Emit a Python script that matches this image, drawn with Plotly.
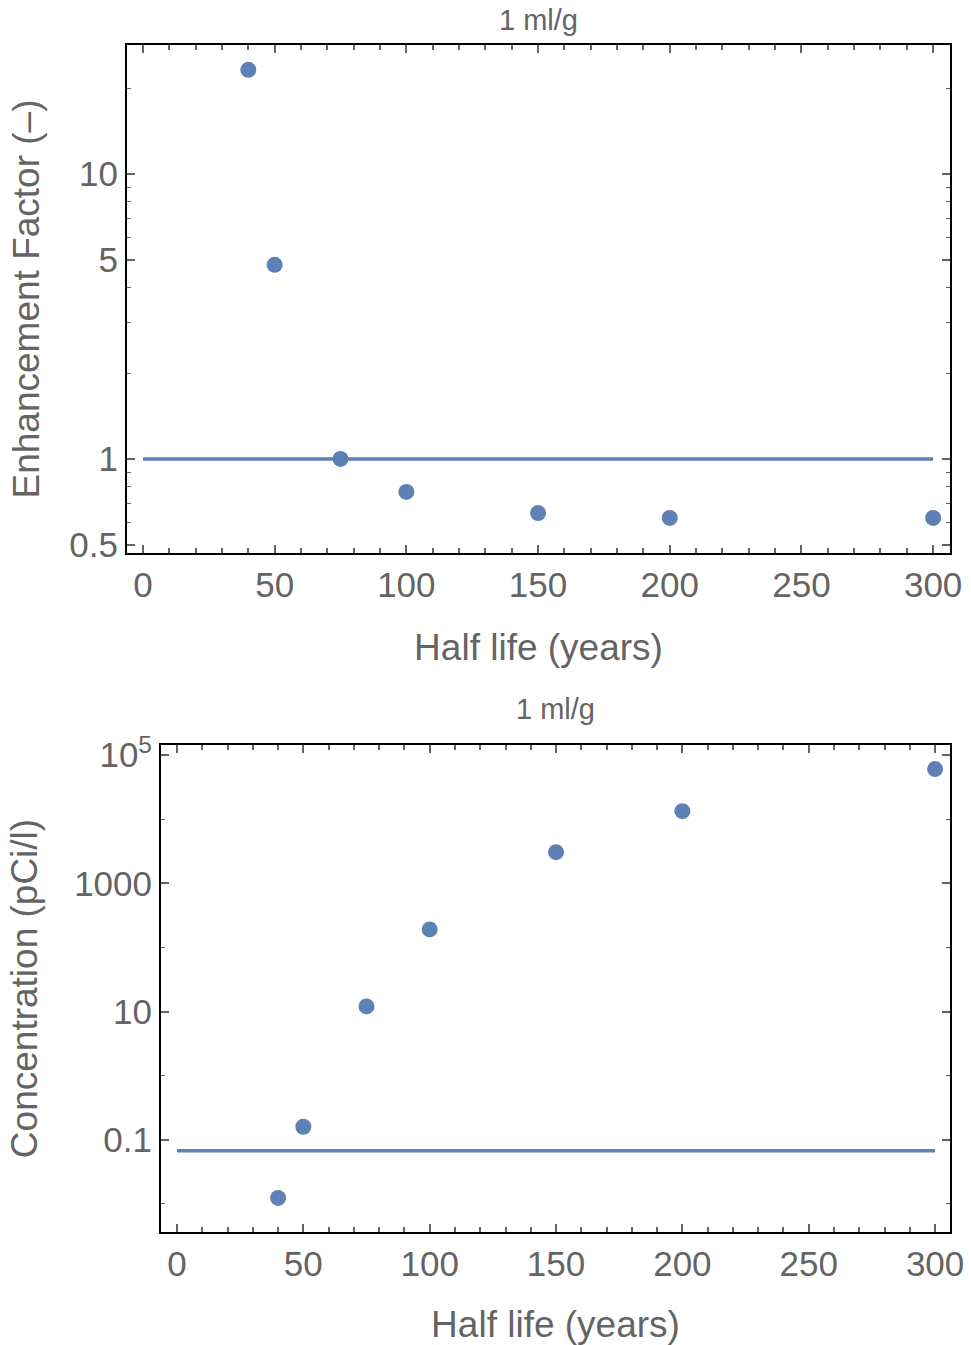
import plotly.graph_objects as go

# ---- data ----
half_life = [40, 50, 75, 100, 150, 200, 300]
enhancement = [23.2, 4.8, 1.0, 0.766, 0.646, 0.621, 0.621]
concentration = [0.0124, 0.16, 12.0, 191, 3050, 13300, 60400]

ref_x = [0, 300]
enh_ref = [1.0, 1.0]
conc_ref = [0.0673, 0.0673]

x_ticks = [0, 50, 100, 150, 200, 250, 300]
enh_ticks = [0.5, 1, 5, 10]
enh_ticktext = ["0.5", "1", "5", "10"]
enh_minor = [0.6, 0.7, 0.8, 0.9, 2, 3, 4, 6, 7, 8, 9, 20]
conc_ticks = [0.1, 10, 1000, 1e5]
conc_ticktext = ["0.1", "10", "1000", "10<sup>5</sup>"]
conc_minor = [0.01, 1, 100, 1e4]

title_text = "1 ml/g"
x_title = "Half life (years)"
y1_title = "Enhancement Factor (\u2013)"
y2_title = "Concentration (pCi/l)"

# ---- style ----
W, H = 971, 1345
BLUE = "#5E81B5"
GRAY = "#646464"
FONT = "Liberation Sans, Arial, sans-serif"

fig = go.Figure()
fig.add_trace(go.Scatter(x=ref_x, y=enh_ref, mode="lines", line=dict(color=BLUE, width=3.5),
                         xaxis="x", yaxis="y", showlegend=False))
fig.add_trace(go.Scatter(x=half_life, y=enhancement, mode="markers",
                         marker=dict(color=BLUE, size=16), xaxis="x", yaxis="y", showlegend=False))
fig.add_trace(go.Scatter(x=ref_x, y=conc_ref, mode="lines", line=dict(color=BLUE, width=3.5),
                         xaxis="x2", yaxis="y2", showlegend=False))
fig.add_trace(go.Scatter(x=half_life, y=concentration, mode="markers",
                         marker=dict(color=BLUE, size=16), xaxis="x2", yaxis="y2", showlegend=False))

def px_x(a, b):
    return [a / W, b / W]

def px_y(top, bottom):
    return [1 - bottom / H, 1 - top / H]

common = dict(showline=True, linecolor="black", linewidth=2, mirror="allticks",
              ticks="inside", ticklen=8, tickwidth=2, tickcolor=GRAY,
              showgrid=False, zeroline=False, automargin=False,
              tickfont=dict(family=FONT, size=35, color=GRAY),
              title_font=dict(family=FONT, size=37, color=GRAY))

xminor = dict(dtick=10, tick0=0, ticks="inside", ticklen=5, tickwidth=2, tickcolor=GRAY, showgrid=False)

fig.update_layout(
    template="none",
    width=W, height=H,
    margin=dict(l=0, r=0, t=0, b=0, autoexpand=False),
    paper_bgcolor="white", plot_bgcolor="white",
    xaxis=dict(domain=px_x(127, 950), range=[-6.06, 306.4], anchor="y",
               tickvals=x_ticks, minor=xminor, title_text=x_title,
               title_standoff=31, **common),
    yaxis=dict(domain=px_y(45, 553), type="log", range=[-0.330, 1.4526], anchor="x",
               tickvals=enh_ticks, ticktext=enh_ticktext,
               minor=dict(tickvals=enh_minor, ticks="inside", ticklen=4, tickwidth=1, tickcolor=GRAY, showgrid=False),
               title_text=y1_title, title_standoff=18, **common),
    xaxis2=dict(domain=px_x(161, 950), range=[-6.33, 305.9], anchor="y2",
                tickvals=x_ticks, minor=xminor, title_text=x_title,
                title_standoff=31, **common),
    yaxis2=dict(domain=px_y(745, 1232), type="log", range=[-2.4375, 5.156], anchor="x2",
                tickvals=conc_ticks, ticktext=conc_ticktext,
                minor=dict(tickvals=conc_minor, ticks="inside", ticklen=4, tickwidth=1, tickcolor=GRAY, showgrid=False),
                title_text=y2_title, title_standoff=25, **common),
    annotations=[
        dict(text=title_text, x=(127 + 950) / 2 / W, y=1 - 20 / H, xref="paper", yref="paper",
             showarrow=False, font=dict(family=FONT, size=29, color=GRAY), yanchor="middle", borderpad=0),
        dict(text=title_text, x=(161 + 950) / 2 / W, y=1 - 709 / H, xref="paper", yref="paper",
             showarrow=False, font=dict(family=FONT, size=29, color=GRAY), yanchor="middle", borderpad=0),
    ],
)

fig.write_html("out.html", config={"displayModeBar": False},
               post_script="document.body.style.margin='0';")
